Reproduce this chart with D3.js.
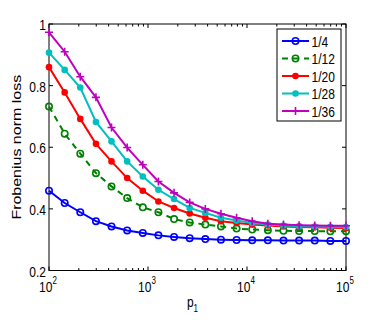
<!DOCTYPE html>
<html>
<head>
<meta charset="utf-8">
<script src="https://cdn.jsdelivr.net/npm/d3@7"></script>
<style>
  body { margin: 0; background: #fff; }
  svg { font-family: "Liberation Sans", Arial, sans-serif; }
</style>
</head>
<body>
<svg id="chart" width="382" height="320"></svg>
<script>
// p1 sample points (20 points, log-spaced between 1e2 and 1e5)
var p1 = [100, 144, 207, 298, 428, 616, 886, 1274, 1833, 2637,
          3793, 5456, 7848, 11288, 16238, 23357, 33598, 48329, 69519, 100000];

var labels = ["1/4", "1/12", "1/20", "1/28", "1/36"];
var colors = ["#0000ff", "#008000", "#ff0000", "#00bfbf", "#bf00bf"];

var loss_4  = [.459, .419, .389, .360, .343, .330, .322, .314, .309, .305,
               .302, .300, .299, .298, .298, .297, .297, .297, .296, .296];
var loss_12 = [.732, .644, .579, .516, .473, .435, .405, .389, .367, .356,
               .349, .343, .336, .333, .331, .329, .328, .328, .327, .327];
var loss_20 = [.860, .778, .692, .611, .554, .500, .459, .424, .403, .385,
               .371, .360, .354, .349, .346, .343, .341, .340, .339, .338];
var loss_28 = [.907, .851, .794, .682, .619, .554, .505, .462, .432, .403,
               .387, .371, .362, .354, .349, .346, .344, .343, .342, .341];
var loss_36 = [.973, .910, .829, .762, .664, .599, .543, .489, .452, .421,
               .400, .384, .371, .360, .352, .349, .347, .346, .345, .345];

var series = [loss_4, loss_12, loss_20, loss_28, loss_36];
var markers = ["circle", "circle", "dot", "dot", "plus"];
var yTicks = [0.2, 0.4, 0.6, 0.8, 1];
var xTicks = [1e2, 1e3, 1e4, 1e5];

var svg = d3.select("#chart");
var mLeft = 49, mRight = 346, mTop = 24, mBottom = 270.5;
var FS = 15, SX = 0.8; // text is drawn narrow, like the original

var x = d3.scaleLog().domain([1e2, 1e5]).range([mLeft, mRight]);
var y = d3.scaleLinear().domain([0.2, 1]).range([mBottom, mTop]);

function label(px, py, anchor) {
  return svg.append("text")
    .attr("transform", "translate(" + px + "," + py + ") scale(" + SX + ",1)")
    .attr("text-anchor", anchor).attr("font-size", FS);
}

// box
svg.append("rect")
  .attr("x", mLeft).attr("y", mTop)
  .attr("width", mRight - mLeft).attr("height", mBottom - mTop)
  .attr("fill", "none").attr("stroke", "#000").attr("stroke-width", 1);

// minor + major log ticks, top and bottom, pointing inwards
var logTicks = [];
for (var e = 2; e < 5; e++) {
  for (var m = 1; m < 10; m++) logTicks.push(m * Math.pow(10, e));
}
logTicks.push(1e5);
logTicks.forEach(function(t) {
  var major = xTicks.indexOf(t) >= 0;
  var len = major ? 4 : 2.5;
  svg.append("line").attr("x1", x(t)).attr("x2", x(t))
    .attr("y1", mBottom).attr("y2", mBottom - len).attr("stroke", "#000");
  svg.append("line").attr("x1", x(t)).attr("x2", x(t))
    .attr("y1", mTop).attr("y2", mTop + len).attr("stroke", "#000");
});
yTicks.forEach(function(t) {
  svg.append("line").attr("x1", mLeft).attr("x2", mLeft + 4)
    .attr("y1", y(t)).attr("y2", y(t)).attr("stroke", "#000");
  svg.append("line").attr("x1", mRight).attr("x2", mRight - 4)
    .attr("y1", y(t)).attr("y2", y(t)).attr("stroke", "#000");
});

// y tick labels
yTicks.forEach(function(t) {
  label(mLeft - 3, y(t) + 6, "end").text(t === 1 ? "1" : t.toFixed(1));
});

// x tick labels 10^n
xTicks.forEach(function(t) {
  var tx = label(x(t) - 1, 292, "middle");
  tx.append("tspan").text("10");
  tx.append("tspan").attr("dy", -8).attr("font-size", 10)
    .text(Math.round(Math.log10(t)));
});

// axis labels
var xl = label(192.5, 306.5, "middle");
xl.append("tspan").text("p");
xl.append("tspan").attr("dy", 5).attr("font-size", 10).text("1");

svg.append("text")
  .attr("transform", "translate(21," + ((mTop + mBottom) / 2) + ") rotate(-90) scale(1," + SX + ")")
  .attr("text-anchor", "middle").attr("font-size", 16)
  .text("Frobenius norm loss");

var line = d3.line()
  .x(function(d, i) { return x(p1[i]); })
  .y(function(d) { return y(d); });

function drawMarker(g, type, cx, cy, col) {
  if (type === "circle") {
    g.append("circle").attr("cx", cx).attr("cy", cy).attr("r", 3.2)
      .attr("fill", "none").attr("stroke", col).attr("stroke-width", 1.6);
  } else if (type === "dot") {
    g.append("circle").attr("cx", cx).attr("cy", cy).attr("r", 3.3)
      .attr("fill", col);
  } else {
    g.append("path")
      .attr("d", "M" + (cx - 4) + "," + cy + "H" + (cx + 4) + "M" + cx + "," + (cy - 4) + "V" + (cy + 4))
      .attr("stroke", col).attr("stroke-width", 1.6);
  }
}

series.forEach(function(vals, k) {
  var g = svg.append("g");
  g.append("path").datum(vals)
    .attr("d", line).attr("fill", "none")
    .attr("stroke", colors[k]).attr("stroke-width", 2)
    .attr("stroke-dasharray", k === 1 ? "6,5" : null);
  vals.forEach(function(v, i) {
    drawMarker(g, markers[k], x(p1[i]), y(v), colors[k]);
  });
});

// legend
var lg = svg.append("g");
lg.append("rect").attr("x", 277).attr("y", 29).attr("width", 64).attr("height", 92)
  .attr("fill", "#fff").attr("stroke", "#000").attr("stroke-width", 1);
labels.forEach(function(lab, k) {
  var ly = 41 + k * 17.5;
  lg.append("line").attr("x1", 282).attr("x2", 309).attr("y1", ly).attr("y2", ly)
    .attr("stroke", colors[k]).attr("stroke-width", 2)
    .attr("stroke-dasharray", k === 1 ? "6,5" : null);
  drawMarker(lg, markers[k], 295.5, ly, colors[k]);
  lg.append("text")
    .attr("transform", "translate(311.5," + (ly + 5.5) + ") scale(" + SX + ",1)")
    .attr("font-size", FS).text(lab);
});
</script>
</body>
</html>
